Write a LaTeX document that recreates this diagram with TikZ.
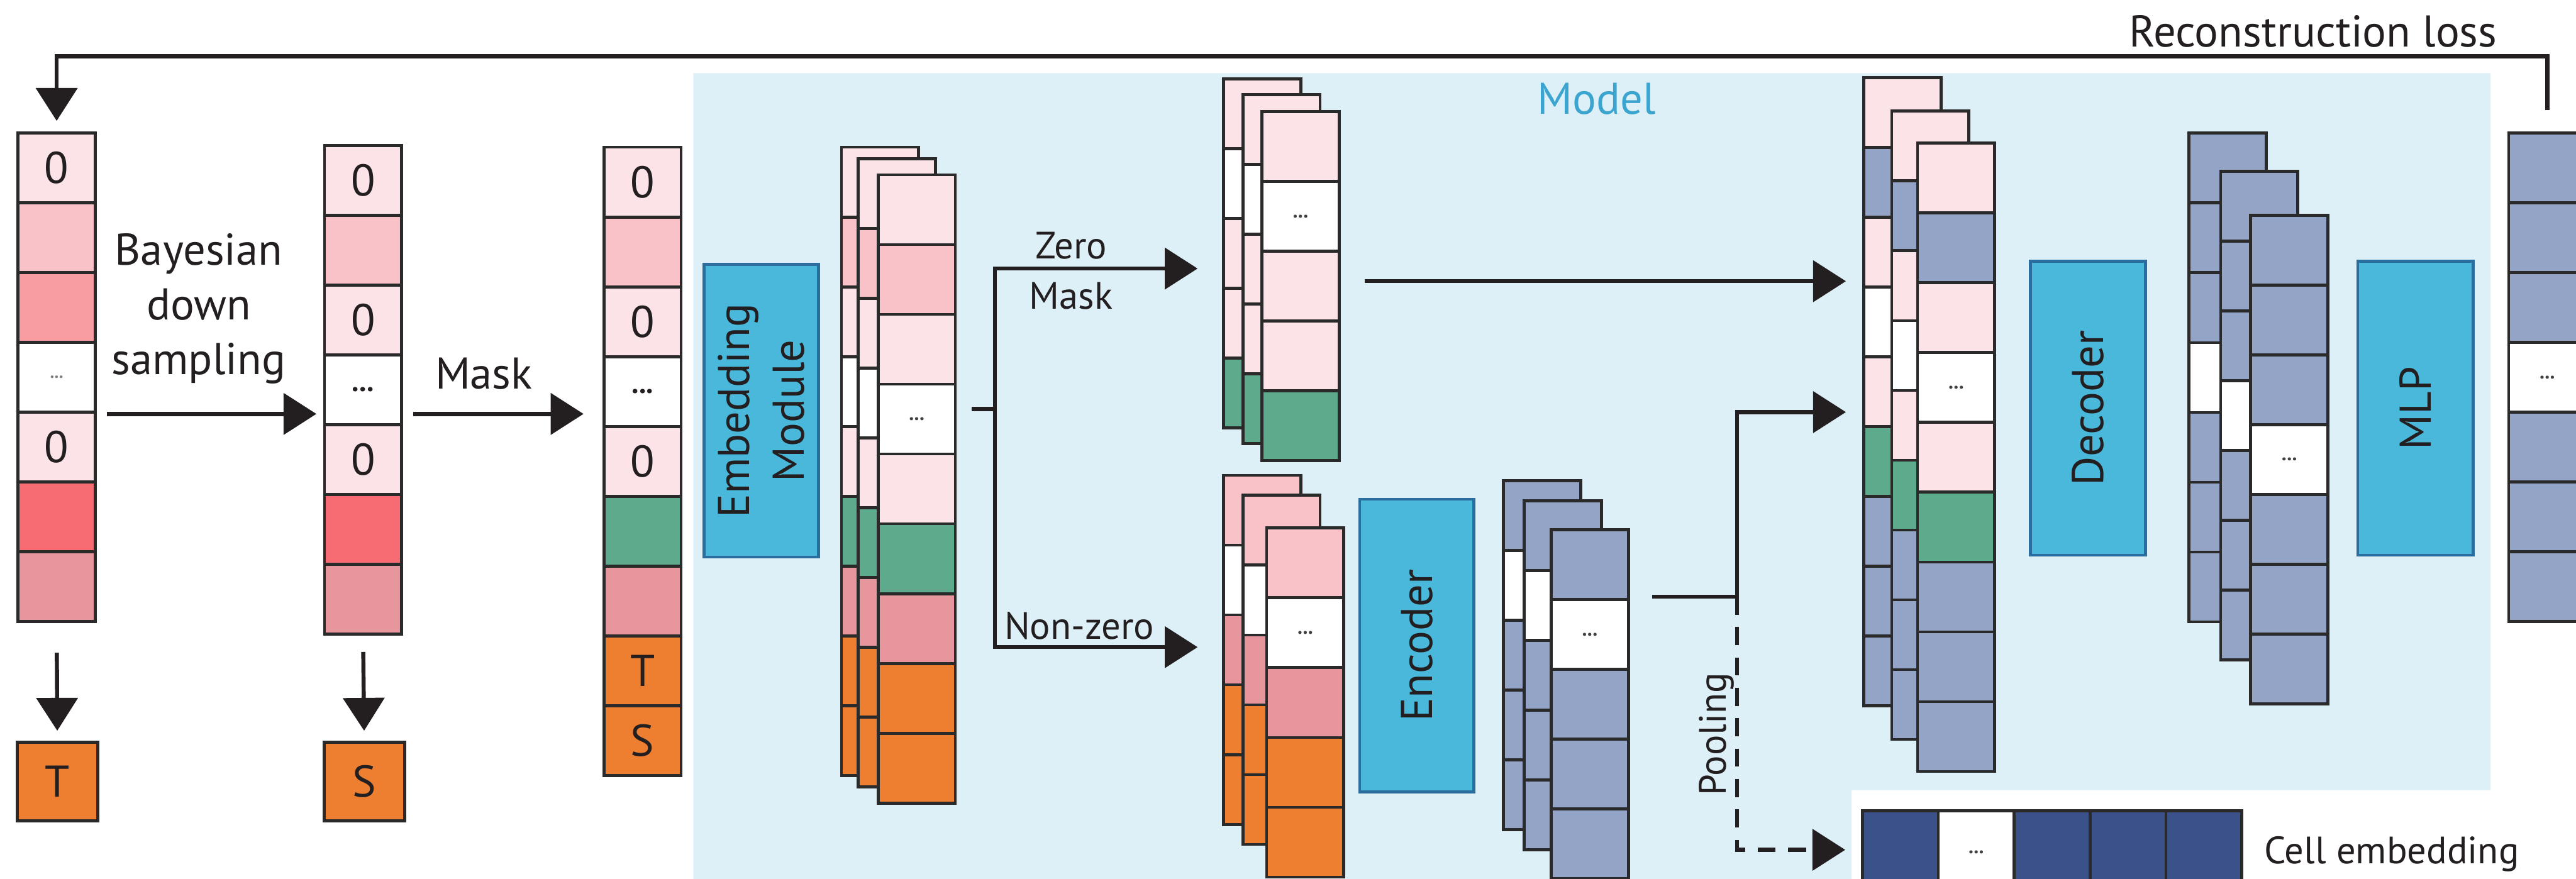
\documentclass[tikz,border=0pt]{standalone}
\usepackage{fontspec}
\setmainfont{PT Sans}
\usetikzlibrary{arrows.meta}
\definecolor{lp}{HTML}{FCE3E7}
\definecolor{pk}{HTML}{F9C1C8}
\definecolor{sal}{HTML}{F89DA1}
\definecolor{redc}{HTML}{F76B72}
\definecolor{mut}{HTML}{E6969C}
\definecolor{grn}{HTML}{5EAA8C}
\definecolor{org}{HTML}{EE7F30}
\definecolor{bl}{HTML}{93A4C6}
\definecolor{db}{HTML}{3B518A}
\definecolor{cyanbox}{HTML}{4AB8DA}
\definecolor{boxline}{HTML}{2B6E9E}
\definecolor{bgc}{HTML}{DDF0F8}
\definecolor{modelc}{HTML}{3BA5D0}
\definecolor{txt}{HTML}{231F20}
\definecolor{cellline}{HTML}{2A2A2A}
\newcommand{\mf}{\fontsize{15.4}{19}\selectfont}
\newcommand{\smallfnt}{\fontsize{13.2}{15}\selectfont}
\newcommand{\ddA}{{\color{gray}\fontsize{6}{6}\selectfont\bfseries...}}
\newcommand{\ddB}{{\fontsize{10}{10}\selectfont\bfseries...}}
\newcommand{\ddS}{{\color{darkgray}\fontsize{7}{7}\selectfont\bfseries...}}
\newcommand{\vcol}[4]{%
  \foreach \c/\t [count=\i] in {#4}{%
    \node[cell, fill=\c] (#1-\i) at ({#2+23.5},{#3+(\i-0.5)*42.5}) {\t};
  }%
}
\begin{document}
\begin{tikzpicture}[x={(0.02cm,0cm)}, y={(0cm,-0.02cm)},
  cell/.style={draw=cellline, line width=1.05pt, minimum width=0.94cm, minimum height=0.85cm, inner sep=0pt, font=\mf, text=txt},
  hcell/.style={cell, minimum width=0.924cm, minimum height=1cm},
  box/.style={draw=boxline, fill=cyanbox, line width=1pt, inner sep=0pt, font=\mf, text=txt, align=center},
  line/.style={draw=txt, line width=1.4pt},
  arr/.style={line, -{Triangle[length=0.4cm,width=0.5cm]}},
  lbl/.style={font=\mf, text=txt},
  slbl/.style={font=\smallfnt, text=txt}]
\clip (0,0) rectangle (1568,535);
\fill[white] (0,0) rectangle (1568,535);
% model background
\fill[bgc] (422,44.5) -- (1516,44.5) -- (1516,481) -- (1127,481) -- (1127,540) -- (422,540) -- cycle;
\node[font=\mf, text=modelc] (model) at (972,60) {Model};
% input columns
\vcol{A}{11}{81}{lp/0,pk/{},sal/{},white/\ddA,lp/0,redc/{},mut/{}}
\vcol{B}{197.5}{88.5}{lp/0,pk/{},lp/0,white/\ddB,lp/0,redc/{},mut/{}}
\vcol{C}{367.6}{89.6}{lp/0,pk/{},lp/0,white/\ddB,lp/0,grn/{},mut/{},org/T,org/S}
\node[cell, fill=org, minimum width=0.98cm, minimum height=0.96cm] (T) at (34.9,475.8) {T};
\node[cell, fill=org, minimum width=0.98cm, minimum height=0.96cm] (S) at (221.7,475.8) {S};
\draw[arr, shorten <=0.36cm, shorten >=0.12cm] (A-7.south) -- (T.north);
\draw[arr, shorten <=0.2cm, shorten >=0.12cm] (B-7.south) -- (S.north);
\coordinate (yA) at (0,252);
\draw[arr, shorten <=0.12cm, shorten >=0.08cm] (A-1.east |- yA) -- (B-1.west |- yA);
\draw[arr, shorten <=0.12cm, shorten >=0.23cm] (B-1.east |- yA) -- (C-1.west |- yA);
\node[lbl, align=center] (bds) at (121,188) {Bayesian\\down\\sampling};
\node[lbl] (mask) at (294.5,227.3) {Mask};
% embedding
\node[box, minimum width=3.564cm, minimum height=1.394cm, rotate=90] (emb) at (463.45,250.1) {Embedding\\Module};
\vcol{Sa}{512.2}{89.6}{lp/{},pk/{},lp/{},white/{},lp/{},grn/{},mut/{},org/{},org/{}}
\vcol{Sb}{522.4}{96.7}{lp/{},pk/{},lp/{},white/{},lp/{},grn/{},mut/{},org/{},org/{}}
\vcol{Sc}{534.5}{106.4}{lp/{},pk/{},lp/{},white/\ddS,lp/{},grn/{},mut/{},org/{},org/{}}
% zero-mask stack
\vcol{Za}{744.9}{47.9}{lp/{},white/{},lp/{},lp/{},grn/{}}
\vcol{Zb}{756.5}{57.6}{lp/{},white/{},lp/{},lp/{},grn/{}}
\vcol{Zc}{768.1}{67.9}{lp/{},white/\ddS,lp/{},lp/{},grn/{}}
% non-zero stack
\vcol{Na}{744.9}{289.4}{pk/{},white/{},mut/{},org/{},org/{}}
\vcol{Nb}{756.5}{301.6}{pk/{},white/{},mut/{},org/{},org/{}}
\vcol{Nc}{771}{321.5}{pk/{},white/\ddS,mut/{},org/{},org/{}}
% branch
\coordinate (br) at (605.6,249);
\coordinate (yZ) at (0,163.5);
\coordinate (yN) at (0,394);
\draw[line, shorten <=0.18cm] (Sc-4.east |- br) -- (br);
\draw[arr, shorten >=0.3cm] (br) |- (Za-1.west |- yZ);
\draw[arr, shorten >=0.3cm] (br) |- (Na-1.west |- yN);
\node[slbl] (zero) at (652,149.7) {Zero};
\node[slbl] (zmask) at (652,180.2) {Mask};
\node[slbl] (nonzero) at (657,381) {Non-zero};
% encoder
\node[box, minimum width=3.564cm, minimum height=1.392cm, rotate=90] (enc) at (862.4,393) {Encoder};
\vcol{Ea}{915.2}{292.6}{bl/{},white/{},bl/{},bl/{},bl/{}}
\vcol{Eb}{927.7}{304.8}{bl/{},white/{},bl/{},bl/{},bl/{}}
\vcol{Ec}{944.2}{322.5}{bl/{},white/\ddS,bl/{},bl/{},bl/{}}
% merged stack
\vcol{Ma}{1134.5}{47.2}{lp/{},bl/{},lp/{},white/{},lp/{},grn/{},bl/{},bl/{},bl/{}}
\vcol{Mb}{1151.5}{67.7}{lp/{},bl/{},lp/{},white/{},lp/{},grn/{},bl/{},bl/{},bl/{}}
\vcol{Mc}{1167.2}{87.2}{lp/{},bl/{},lp/{},white/\ddS,lp/{},grn/{},bl/{},bl/{},bl/{}}
% cell embedding bar
\foreach \c/\t [count=\i] in {db/{},white/\ddS,db/{},db/{},db/{}}{
  \node[hcell, fill=\c] (CE-\i) at ({1133.6+(\i-0.5)*46.2},518.7) {\t};
}
\node[slbl, anchor=west] (celltxt) at (1372,520) {Cell embedding};
% arrows into merged stack
\coordinate (yZM) at (0,171.2);
\draw[arr, shorten <=0.29cm, shorten >=0.2cm] (Zc-1.east |- yZM) -- (Ma-1.west |- yZM);
\coordinate (pj) at (1057.4,363.3);
\coordinate (yEM) at (0,250.9);
\coordinate (yCE) at (0,517.4);
\draw[line, shorten <=0.27cm] (Ec-1.east |- pj) -- (pj);
\draw[arr, shorten >=0.2cm] (pj) |- (Ma-1.west |- yEM);
\draw[arr, dash pattern=on 0.22cm off 0.15cm, shorten >=0.19cm] (pj) |- (CE-1.west |- yCE);
\node[slbl, rotate=90] (pool) at (1045,447) {Pooling};
% decoder
\node[box, minimum width=3.58cm, minimum height=1.402cm, rotate=90] (dec) at (1270.85,248.5) {Decoder};
\vcol{Da}{1332.5}{81.1}{bl/{},bl/{},bl/{},white/{},bl/{},bl/{},bl/{}}
\vcol{Db}{1351.7}{104.3}{bl/{},bl/{},bl/{},white/{},bl/{},bl/{},bl/{}}
\vcol{Dc}{1370}{131}{bl/{},bl/{},bl/{},white/\ddS,bl/{},bl/{},bl/{}}
% MLP
\node[box, minimum width=3.58cm, minimum height=1.402cm, rotate=90] (mlp) at (1470.25,248.5) {MLP};
\vcol{O}{1527}{81}{bl/{},bl/{},bl/{},white/\ddS,bl/{},bl/{},bl/{}}
% reconstruction loss loop
\coordinate (topy) at (0,34.2);
\draw[arr, shorten <=0.26cm, shorten >=0.13cm] (O-1.north) -- (O-1.north |- topy) -| (A-1.north);
\node[lbl] (rl) at (1408,19) {Reconstruction loss};
\end{tikzpicture}
\end{document}
